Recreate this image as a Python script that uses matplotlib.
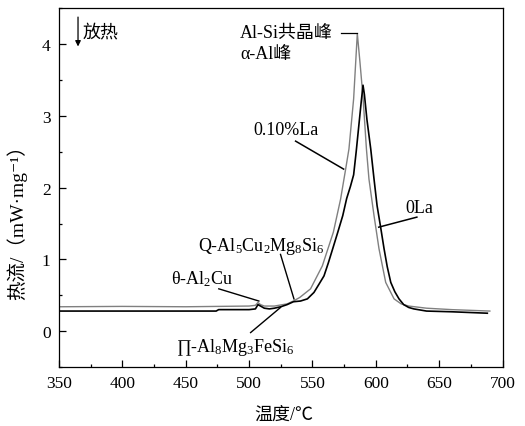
import matplotlib
matplotlib.use('Agg')
import matplotlib.pyplot as plt
from matplotlib.ticker import MultipleLocator

plt.rcParams['mathtext.fontset'] = 'custom'
plt.rcParams['mathtext.rm'] = 'Liberation Serif'
plt.rcParams['mathtext.it'] = 'Liberation Serif'

SERIF = ['Liberation Serif', 'Noto Sans CJK SC', 'DejaVu Serif']

# --- data ---
temp_la = [350, 400, 450, 475, 500, 505, 507, 509, 512, 520, 530, 535, 540,
           548.5, 557.8, 566.5, 572.2, 576.2, 578.8, 582.5, 585.4, 587.5, 590,
           592.6, 594.6, 598.6, 602.5, 607.8, 614.4, 620, 626, 640, 660, 690]
heat_la = [0.34, 0.345, 0.34, 0.345, 0.35, 0.36, 0.40, 0.37, 0.35, 0.35, 0.38, 0.42, 0.47,
           0.59, 0.91, 1.38, 1.84, 2.26, 2.54, 3.24, 4.15, 3.75, 3.24,
           2.54, 2.12, 1.61, 1.15, 0.68, 0.45, 0.38, 0.35, 0.32, 0.30, 0.28]

temp_0 = [350, 400, 450, 474, 476, 500, 505, 507, 509, 512, 516, 520, 525, 530,
          535, 540.6, 546, 551.2, 555, 559.1, 562.5, 566, 570, 573.9, 577, 580,
          582.5, 584.5, 586.5, 588.5, 589.9, 591, 593, 596, 598.6, 601, 603.8,
          606.5, 609, 611.8, 615, 618.3, 622, 626, 630, 640, 660, 688]
heat_0 = [0.28, 0.28, 0.28, 0.28, 0.30, 0.30, 0.31, 0.37, 0.35, 0.32, 0.31, 0.32, 0.34, 0.37,
          0.41, 0.42, 0.45, 0.54, 0.65, 0.77, 0.95, 1.15, 1.38, 1.61, 1.85, 2.02,
          2.18, 2.5, 2.85, 3.2, 3.43, 3.3, 2.95, 2.54, 2.12, 1.75, 1.45,
          1.15, 0.9, 0.68, 0.55, 0.45, 0.37, 0.33, 0.31, 0.28, 0.27, 0.25]

x_ticks = [350, 400, 450, 500, 550, 600, 650, 700]
y_ticks = [0, 1, 2, 3, 4]

fig = plt.figure(figsize=(5.25, 4.27), dpi=100)
ax = fig.add_axes([0.1124, 0.1382, 0.8448, 0.8396])

ax.plot(temp_la, heat_la, color='#808080', lw=1.0)
ax.plot(temp_0, heat_0, color='black', lw=1.2)

ax.set_xlim(350, 700)
ax.set_ylim(-0.5, 4.5)
ax.set_xticks(x_ticks)
ax.set_yticks(y_ticks)
ax.xaxis.set_minor_locator(MultipleLocator(25))
ax.yaxis.set_minor_locator(MultipleLocator(0.5))
ax.tick_params(which='major', direction='in', length=5, width=0.9,
               labelsize=12.5, pad=6, top=False, right=False)
ax.tick_params(which='minor', direction='in', length=2.5, width=0.9,
               top=False, right=False)
for lab in ax.get_xticklabels() + ax.get_yticklabels():
    lab.set_family('Liberation Serif')
for sp in ax.spines.values():
    sp.set_linewidth(0.9)

ax.set_xlabel('温度/℃', family=SERIF, fontsize=13)
ax.xaxis.set_label_coords(0.507, -0.108)
ax.set_ylabel('热流/（mW·mg⁻¹）', family=SERIF, fontsize=14)
ax.yaxis.set_label_coords(-0.072, 0.42)

fs = 13
# exotherm arrow
ax.annotate('', xy=(365, 3.97), xytext=(365, 4.38),
            arrowprops=dict(arrowstyle='-|>', color='black', lw=0.9,
                            mutation_scale=8, shrinkA=0, shrinkB=0))
ax.text(369, 4.17, '放热', family=SERIF, fontsize=fs, va='center', ha='left')

ax.text(493, 4.16, 'Al-Si共晶峰', family=SERIF, fontsize=fs, va='center', ha='left')
ax.text(493, 3.87, 'α-Al峰', family=SERIF, fontsize=fs, va='center', ha='left')
ax.plot([572.5, 585.3], [4.16, 4.16], color='black', lw=0.9)

ax.text(503.5, 2.81, '0.10%La', family=SERIF, fontsize=fs, va='center', ha='left')
ax.plot([536.7, 574.6], [2.65, 2.26], color='black', lw=1.1)

ax.text(623.5, 1.73, '0La', family=SERIF, fontsize=fs, va='center', ha='left')
ax.plot([632.4, 602.3], [1.59, 1.45], color='black', lw=1.1)

ax.text(459.4, 1.19, r'Q-Al$_5$Cu$_2$Mg$_8$Si$_6$', family='Liberation Serif',
        fontsize=fs, va='center', ha='left')
ax.plot([524.8, 535.4], [1.07, 0.45], color='black', lw=1.0)

ax.text(438, 0.74, r'θ-Al$_2$Cu', family='Liberation Serif',
        fontsize=fs, va='center', ha='left')
ax.plot([476.1, 507.7], [0.59, 0.42], color='black', lw=1.0)

ax.text(442, -0.22, r'∏-Al$_8$Mg$_3$FeSi$_6$', family='Liberation Serif',
        fontsize=fs, va='center', ha='left')
ax.plot([501.2, 524.8], [-0.02, 0.33], color='black', lw=1.0)

fig.savefig('out.png', dpi=100)
